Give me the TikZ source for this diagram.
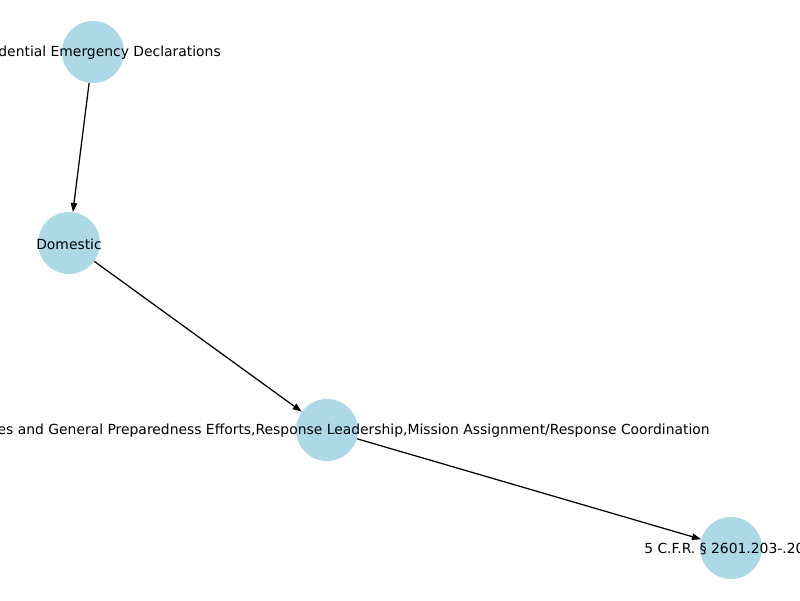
\documentclass[tikz,border=0pt]{standalone}
\usepackage{fontspec}
\setmainfont{DejaVu Sans}
\usetikzlibrary{arrows.meta}
\begin{document}
\begin{tikzpicture}[x=0.72pt,y=-0.72pt,
  gnode/.style={circle,fill={rgb,255:red,173;green,216;blue,230},draw=none,minimum size=44.6pt,inner sep=0pt},
  glabel/.style={font=\fontsize{10}{12}\selectfont,inner sep=0pt,text=black},
  gedge/.style={-{Triangle[length=6.5pt,width=4.6pt]},line width=0.9pt,black}]
\useasboundingbox (0,0) rectangle (800,600);
\clip (0,0) rectangle (800,600);
\fill[white] (0,0) rectangle (800,600);
\node[gnode] (a) at (93,52) {};
\node[gnode] (b) at (69,243) {};
\node[gnode] (c) at (327,430) {};
\node[gnode] (d) at (731,548) {};
\draw[gedge] (a) -- (b);
\draw[gedge] (b) -- (c);
\draw[gedge] (c) -- (d);
\node[glabel,anchor=east] (la) at (221,53) {dential Emergency Declarations};
\node[glabel] (lb) at (69,244) {Domestic};
\node[glabel,anchor=east] (lc) at (710,431) {es and General Preparedness Efforts,Response Leadership,Mission Assignment/Response Coordination};
\node[glabel,anchor=west] (ld) at (644,549) {5 C.F.R. § 2601.203-.20};
\end{tikzpicture}
\end{document}
